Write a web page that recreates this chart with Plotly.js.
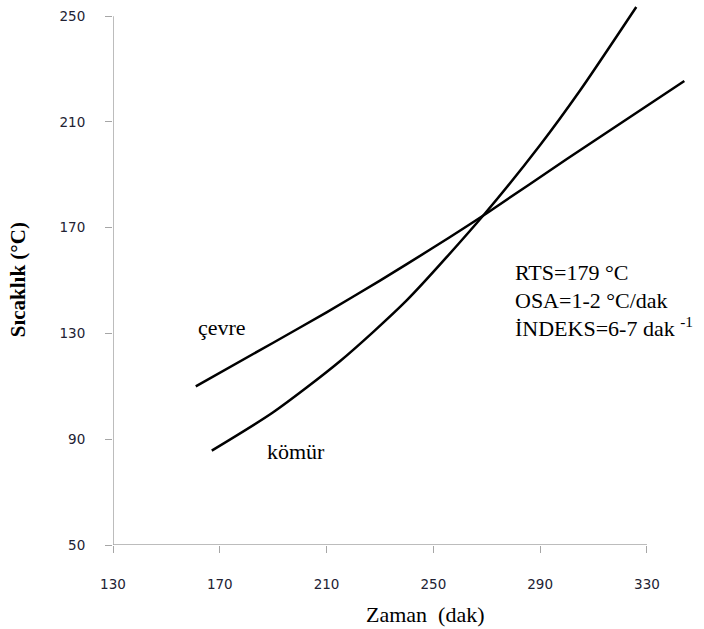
<!DOCTYPE html>
<html>
<head>
<meta charset="utf-8">
<script src="https://cdn.plot.ly/plotly-3.0.1.min.js"></script>
<style>html,body{margin:0;padding:0;background:#fff;}#chart{width:704px;height:629px;}</style>
</head>
<body>
<div id="chart"></div>
<script>
// Data
const cevreX = [161, 190, 210, 230, 250, 270, 300, 344];
const cevreY = [110, 126.5, 138, 150, 162.5, 175.5, 196, 225.5];
const komurX = [167, 190, 215, 240, 269, 290, 305, 326];
const komurY = [85.7, 100.2, 119.5, 142.5, 175, 201.3, 222, 253.5];
const xTicks = [130, 170, 210, 250, 290, 330];
const yTicks = [50, 90, 130, 170, 210, 250];
const seriesLabels = ['çevre', 'kömür'];
const infoLines = ['RTS=179 °C', 'OSA=1-2 °C/dak', 'İNDEKS=6-7 dak <sup>-1</sup>'];

const serif = 'Liberation Serif, Times New Roman, serif';
const lineStyle = {color: '#000', width: 2.5, shape: 'spline', smoothing: 0.7};

const traces = [
  {x: cevreX, y: cevreY, mode: 'lines', line: lineStyle, name: seriesLabels[0], hoverinfo: 'skip'},
  {x: komurX, y: komurY, mode: 'lines', line: lineStyle, name: seriesLabels[1], hoverinfo: 'skip'}
];

const axisColor = '#a6a6a6';
const tickFont = {family: 'DejaVu Sans, Verdana, sans-serif', size: 13.5, color: '#222233'};

const layout = {
  width: 704, height: 629,
  margin: {l: 113, r: 17, t: 3, b: 84},
  paper_bgcolor: '#fff', plot_bgcolor: '#fff',
  showlegend: false,
  xaxis: {
    range: [130, 345], tickvals: xTicks, ticktext: xTicks.map(String),
    showgrid: false, zeroline: false, showline: false,
    ticks: 'outside', ticklen: 7, tickcolor: axisColor, tickwidth: 1,
    tickfont: tickFont, ticklabelstandoff: 20
  },
  yaxis: {
    range: [50, 255], tickvals: yTicks, ticktext: yTicks.map(String),
    showgrid: false, zeroline: false, showline: false,
    ticks: 'outside', ticklen: 7, tickcolor: axisColor, tickwidth: 1,
    tickfont: tickFont, ticklabelstandoff: 17
  },
  shapes: [
    {type: 'line', xref: 'x', yref: 'y', x0: xTicks[0], x1: xTicks[xTicks.length-1], y0: yTicks[0], y1: yTicks[0], line: {color: axisColor, width: 1.5}},
    {type: 'line', xref: 'x', yref: 'y', x0: xTicks[0], x1: xTicks[0], y0: yTicks[0], y1: yTicks[yTicks.length-1], line: {color: axisColor, width: 1.5}}
  ],
  annotations: [
    {text: seriesLabels[0], xref: 'x', yref: 'y', x: 161, y: 132.4, xanchor: 'left', yanchor: 'middle', showarrow: false, font: {family: serif, size: 22, color: '#000'}},
    {text: seriesLabels[1], xref: 'x', yref: 'y', x: 187, y: 85.5, xanchor: 'left', yanchor: 'middle', showarrow: false, font: {family: serif, size: 22, color: '#000'}},
    {text: infoLines[0], xref: 'x', yref: 'y', x: 280, y: 153.2, xanchor: 'left', yanchor: 'middle', showarrow: false, font: {family: serif, size: 22, color: '#000'}},
    {text: infoLines[1], xref: 'x', yref: 'y', x: 280, y: 142.6, xanchor: 'left', yanchor: 'middle', showarrow: false, font: {family: serif, size: 22, color: '#000'}},
    {text: infoLines[2], xref: 'x', yref: 'y', x: 280, y: 132.4, xanchor: 'left', yanchor: 'middle', showarrow: false, font: {family: serif, size: 22, color: '#000'}},
    {text: '<b>Sıcaklık (°C)</b>', xref: 'paper', yref: 'paper', x: -0.165, y: 0.489, xanchor: 'center', yanchor: 'middle', textangle: -90, showarrow: false, font: {family: serif, size: 21, color: '#000'}},
    {text: 'Zaman  (dak)', xref: 'paper', yref: 'paper', x: 0.545, y: -0.129, xanchor: 'center', yanchor: 'middle', showarrow: false, font: {family: serif, size: 22, color: '#000'}}
  ]
};

Plotly.newPlot('chart', traces, layout, {displayModeBar: false, staticPlot: true});
</script>
</body>
</html>
